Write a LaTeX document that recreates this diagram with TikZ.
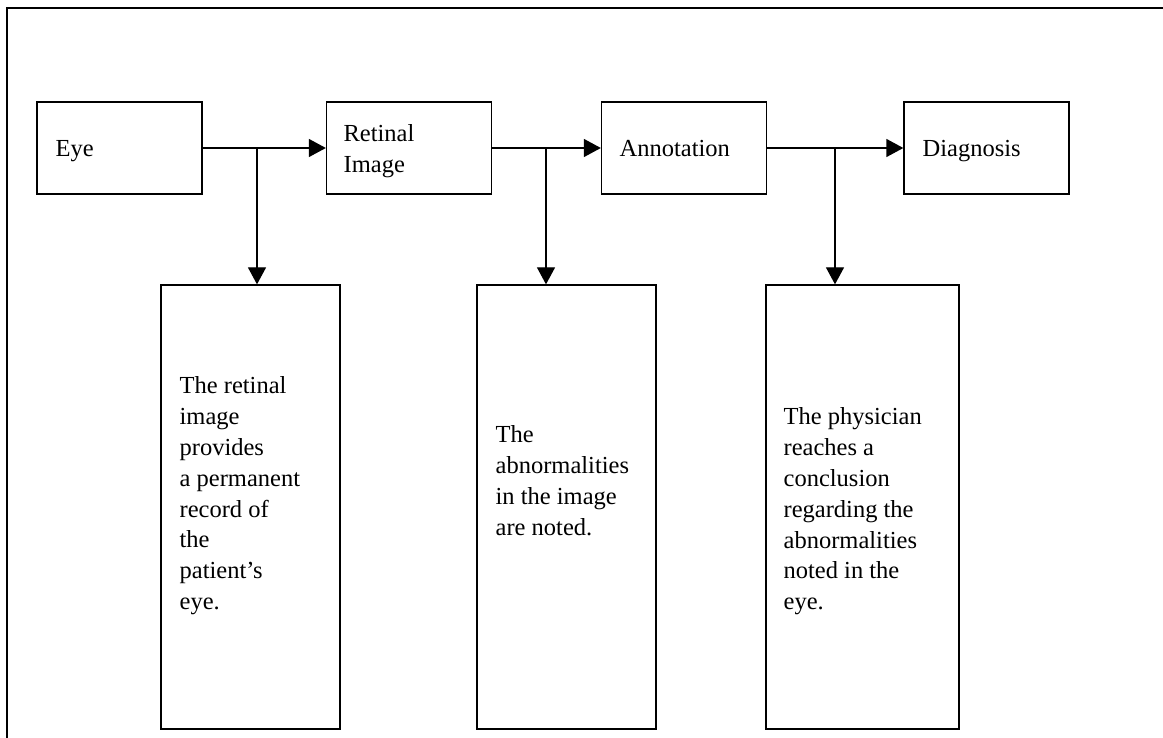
\documentclass[tikz,border=0pt]{standalone}
\usepackage{fontspec}
\setmainfont{Liberation Serif}
\usetikzlibrary{arrows.meta}
\begin{document}
\begin{tikzpicture}[x=1pt,y=-1pt,
  line width=1.3pt,
  box/.style={draw,rectangle,inner sep=0pt,line width=1.3pt},
  stagebox/.style={box,minimum width=165pt,minimum height=92pt},
  notebox/.style={box,minimum width=179pt,minimum height=444pt},
  label/.style={anchor=base west,inner sep=0pt,
    font=\fontsize{24.5}{30.8}\selectfont},
  para/.style={label,anchor=north west,align=left},
  flow/.style={-{Triangle[length=17pt,width=18pt]}}]
  \useasboundingbox (0,0) rectangle (1163,738);
  % frame
  \draw (7,739) -- (7,8) -- (1164,8);
  % stages
  \node[stagebox] (eye) at (119.5,148) {};
  \node[stagebox] (ret) at (409,148) {};
  \node[stagebox] (ann) at (684,148) {};
  \node[stagebox] (dia) at (986.5,148) {};
  \node[label] (eyeT) at (55,157) {Eye};
  \node[para] (retT) at (343,124.3) {Retinal\\Image};
  \node[label] (annT) at (619,157) {Annotation};
  \node[label] (diaT) at (922,157) {Diagnosis};
  % notes
  \node[notebox] (n1) at (250.5,507) {};
  \node[notebox] (n2) at (566.5,507) {};
  \node[notebox,minimum width=193pt] (n3) at (862.5,507) {};
  \node[para] (n1T) at (179,376.3) {The retinal\\image\\provides\\a permanent\\record of\\the\\patient’s\\eye.};
  \node[para] (n2T) at (495,425.3) {The\\abnormalities\\in the image\\are noted.};
  \node[para] (n3T) at (783,407.3) {The physician\\reaches a\\conclusion\\regarding the\\abnormalities\\noted in the\\eye.};
  % connectors
  \draw[flow] (eye.east) -- (ret.west);
  \draw[flow] (ret.east) -- (ann.west);
  \draw[flow] (ann.east) -- (dia.west);
  \coordinate (b1) at (257,148);
  \coordinate (b2) at (546,148);
  \coordinate (b3) at (835,148);
  \draw[flow] (b1) -- (b1 |- n1.north);
  \draw[flow] (b2) -- (b2 |- n2.north);
  \draw[flow] (b3) -- (b3 |- n3.north);
\end{tikzpicture}
\end{document}
